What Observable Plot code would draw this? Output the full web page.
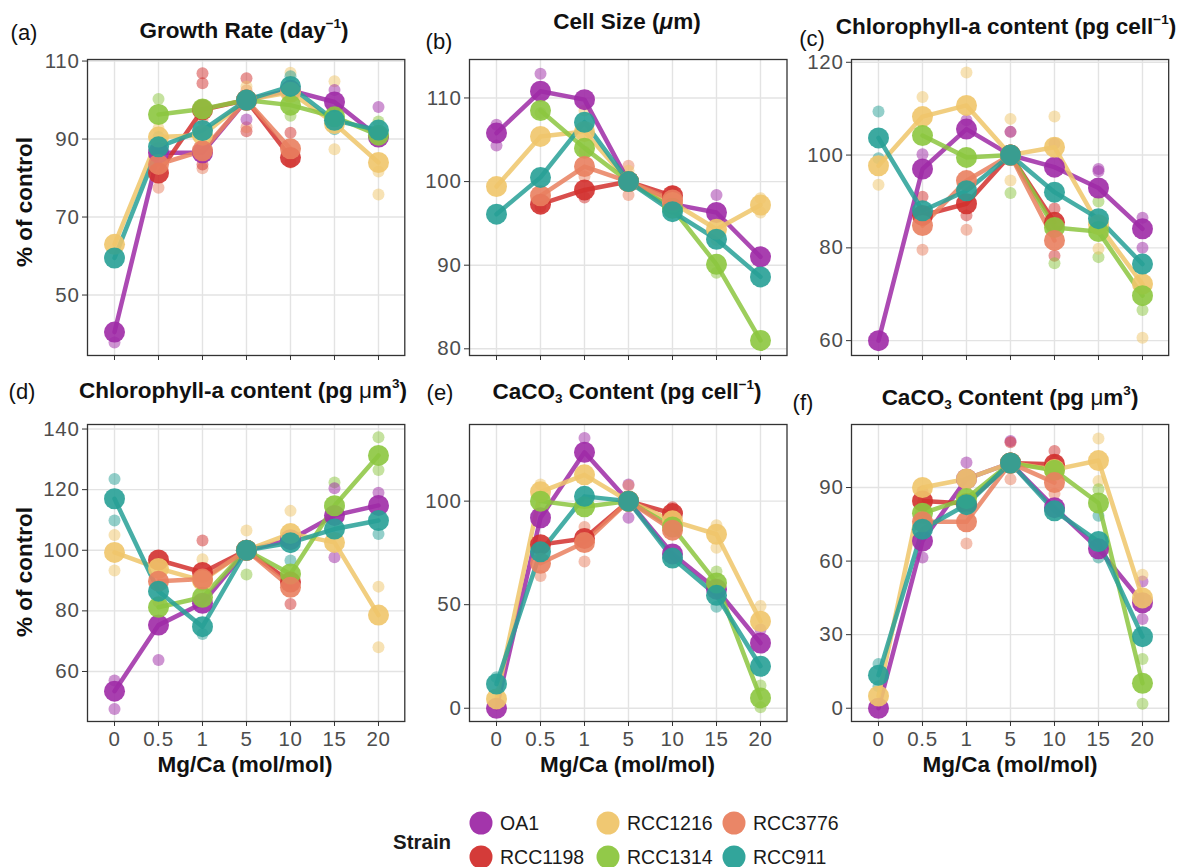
<!DOCTYPE html>
<html>
<head>
<meta charset="utf-8">
<script src="https://cdn.jsdelivr.net/npm/d3@7"></script>
<script src="https://cdn.jsdelivr.net/npm/@observablehq/plot@0.6"></script>
<style>
  html, body { margin: 0; padding: 0; background: #fff; }
  #root { position: relative; width: 1186px; height: 867px; overflow: hidden; font-family: "Liberation Sans", Arial, Helvetica, sans-serif; color: #111; }
  .abs { position: absolute; white-space: nowrap; transform: translate(-50%, -50%); }
  .title { font-weight: bold; font-size: 22.5px; }
  .tag { font-size: 22px; line-height: 1; }
  .axt { font-weight: bold; font-size: 22.5px; }
  sup { font-size: 0.6em; vertical-align: 0; position: relative; top: -0.75em; }
  sub { font-size: 0.6em; vertical-align: 0; position: relative; top: 0.3em; }
  .leg { position: absolute; font-size: 19.5px; color: #1a1a1a; transform: translateY(-50%); white-space: nowrap; }
  .sw { position: absolute; width: 23px; height: 23px; border-radius: 50%; transform: translate(-50%, -50%); }
</style>
</head>
<body>
<div id="root"></div>
<script>
// ---------- data ----------
const mgca = ["0", "0.5", "1", "5", "10", "15", "20"];
const strains = ["OA1", "RCC1198", "RCC1216", "RCC1314", "RCC3776", "RCC911"];
const strainColors = ["#9E2AA6", "#D2302E", "#EFC56A", "#8CC63F", "#E9805F", "#27A096"];

// means, rows in strain order, columns in mgca order
const growthMean = [
  [40.5, 86.5, 86.5, 100, 102.5, 99.5, 90.5],
  [null, 81.3, 97.5, 100, 85.3, null, null],
  [63, 90.5, 91, 100, 102, 94, 84],
  [null, 96.3, 97.7, 100, 98.7, 95.7, 91],
  [null, 83.5, 87, 100, 87.5, null, null],
  [59.5, 88, 92.2, 100, 103.5, 94.8, 92.3]
];
const sizeMean = [
  [105.8, 110.8, 109.8, 100, 97.3, 96.3, 91],
  [null, 97.3, 99, 100, 98.3, null, null],
  [99.4, 105.4, 106, 100, 97.5, 94.3, 97.2],
  [null, 108.5, 104, 100, 96.8, 90.1, 81],
  [null, 98.3, 101.8, 100, 97.8, null, null],
  [96.1, 100.5, 107.1, 100, 96.4, 93.1, 88.6]
];
const chlCellMean = [
  [60, 97, 105.6, 100, 97.4, 92.9, 84.1],
  [null, 87, 89.5, 100, 85.5, null, null],
  [97.7, 108.3, 110.7, 100, 101.7, 85, 72.2],
  [null, 104.2, 99.5, 100, 84.4, 83.5, 69.7],
  [null, 84.8, 94.5, 100, 81.6, null, null],
  [103.7, 88, 92.3, 100, 92, 86.3, 76.5]
];
const chlVolMean = [
  [53.5, 75.3, 82.5, 100, 103.5, 111.5, 114.8],
  [null, 96.8, 92.7, 100, 89.5, null, null],
  [99.3, 94, 90, 100, 105.5, 102.6, 78.6],
  [null, 81.2, 84.5, 100, 92.2, 114.7, 131.3],
  [null, 89.8, 90.5, 100, 87.8, null, null],
  [117, 86.5, 74.8, 100, 102.5, 107, 109.8]
];
const caco3CellMean = [
  [0, 92, 123.6, 100, 74.5, 57.5, 31.5],
  [null, 79, 82, 100, 94, null, null],
  [4.5, 104.5, 112.7, 100, 90.5, 84, 42],
  [null, 100, 97.3, 100, 87.5, 60.5, 5],
  [null, 70, 80, 100, 86, null, null],
  [11.7, 75.5, 102.3, 100, 72.5, 54.5, 20.3]
];
const caco3VolMean = [
  [0, 68.2, 93.5, 100, 81.8, 65, 43],
  [null, 84.5, 83.5, 100, 99.5, null, null],
  [5, 90, 93.5, 100, 97.3, 101, 45],
  [null, 79.5, 85.5, 100, 97, 83.7, 10.2],
  [null, 76, 76, 100, 92, null, null],
  [13.5, 73, 83, 100, 80.5, 68, 29.2]
];

// visible replicate points: [strain, Mg/Ca, value]
const growthReps = [
  ["OA1","0",37.8], ["RCC1314","0.5",100.3], ["RCC3776","0.5",77.5], ["RCC1216","0.5",92.7], ["RCC911","0.5",90.5],
  ["RCC1198","1",106.9], ["RCC1198","1",104.3], ["RCC3776","1",82.5], ["RCC1198","1",83.5], ["RCC3776","1",95],
  ["RCC1198","5",105.6], ["RCC3776","5",102.5], ["RCC1198","5",92], ["RCC3776","5",93], ["OA1","5",95], ["RCC1216","5",103.5],
  ["RCC1216","10",107], ["RCC911","10",106.1], ["RCC1198","10",91.6], ["RCC3776","10",84], ["RCC1314","10",96], ["RCC1314","10",101],
  ["RCC1216","15",104.8], ["RCC1216","15",87.4], ["OA1","15",102.6], ["RCC911","15",92.5],
  ["OA1","20",98.2], ["RCC1216","20",75.8], ["RCC1216","20",81.7], ["RCC1314","20",94.5]
];
const sizeReps = [
  ["OA1","0",106.8], ["OA1","0",104.3], ["OA1","0.5",112.9], ["RCC1314","0.5",108.2], ["RCC1198","0.5",97],
  ["RCC1216","1",108.5], ["RCC3776","1",103.6], ["RCC1198","1",98.1], ["RCC3776","1",100.6],
  ["RCC3776","5",101.9], ["RCC3776","5",98.4], ["RCC1216","5",101.3], ["RCC1198","10",98.8],
  ["OA1","15",98.4], ["RCC1216","15",93], ["RCC1314","15",89.1], ["RCC1216","20",98], ["RCC1216","20",96.3]
];
const chlCellReps = [
  ["RCC911","0",109.4], ["RCC911","0",99.3], ["RCC1216","0",93.6], ["RCC1216","0.5",112.5], ["OA1","0.5",100.2],
  ["RCC3776","0.5",79.6], ["RCC1198","0.5",91], ["RCC1216","1",117.8], ["OA1","1",107.5], ["RCC3776","1",83.9],
  ["RCC1198","1",87], ["RCC1216","5",107.8], ["RCC1314","5",91.8], ["RCC3776","5",105], ["OA1","5",105],
  ["RCC1216","5",94.5], ["RCC1216","10",108.3], ["OA1","10",102.5], ["RCC1198","10",78.3], ["RCC1314","10",76.7],
  ["RCC1198","10",88.5], ["OA1","15",97], ["OA1","15",96.5], ["RCC1314","15",78], ["RCC1216","15",79.8],
  ["RCC1314","15",90], ["RCC1216","20",60.6], ["RCC1314","20",66.6], ["OA1","20",80], ["OA1","20",86.5]
];
const chlVolReps = [
  ["RCC911","0",123.5], ["RCC911","0",109.8], ["RCC1216","0",105], ["RCC1216","0",93.3], ["OA1","0",57], ["OA1","0",47.6],
  ["OA1","0.5",63.8], ["RCC3776","0.5",83], ["RCC1198","1",103.2], ["RCC911","1",72.4], ["RCC1216","1",97],
  ["RCC1314","5",92], ["RCC1216","5",106.5], ["RCC1198","10",82.3], ["RCC1216","10",113], ["RCC911","10",96.6],
  ["RCC1314","15",122.4], ["OA1","15",97.7], ["OA1","15",120.5], ["RCC1314","20",137.3], ["RCC1314","20",126.5],
  ["RCC1216","20",88], ["RCC1216","20",68], ["RCC911","20",105.4], ["OA1","20",119]
];
const caco3CellReps = [
  ["RCC911","0",15], ["RCC1216","0.5",108], ["RCC3776","0.5",63.9], ["OA1","1",130.5], ["RCC3776","1",70.8], ["RCC3776","1",87.5],
  ["OA1","5",92], ["OA1","5",108], ["RCC3776","5",107.5], ["RCC1198","10",97],
  ["RCC1216","15",88.4], ["RCC1216","15",77.5], ["RCC1314","15",66], ["RCC911","15",49],
  ["RCC1216","20",49.4], ["RCC1314","20",0.5], ["RCC1314","20",11], ["OA1","20",38]
];
const caco3VolReps = [
  ["RCC911","0",18], ["RCC911","0",9], ["OA1","0.5",61.5], ["RCC1198","0.5",88.4], ["OA1","1",100.2], ["RCC3776","1",67.2],
  ["OA1","5",109], ["RCC3776","5",93.4], ["RCC1198","5",108.5], ["RCC1198","10",100.9], ["RCC1198","10",104.9], ["RCC3776","10",87.5],
  ["RCC1216","15",110], ["RCC1216","15",92.7], ["RCC1314","15",89.3], ["RCC911","15",78.5], ["RCC911","15",61.5],
  ["RCC1314","20",1.8], ["RCC1314","20",20.1], ["OA1","20",51.7], ["RCC1216","20",54.4], ["OA1","20",36.4]
];

const yTicksA = [50, 70, 90, 110];
const yTicksB = [80, 90, 100, 110];
const yTicksC = [60, 80, 100, 120];
const yTicksD = [60, 80, 100, 120, 140];
const yTicksE = [0, 50, 100];
const yTicksF = [0, 30, 60, 90];

// ---------- layout ----------
const FONT = '"Liberation Sans", Arial, Helvetica, sans-serif';
const colL = [86.5, 469, 851], colR = [403.8, 786.5, 1168.2];
const rowT = [59, 424], rowB = [355, 721];

const panels = [
  {means: growthMean, reps: growthReps, domain: [34.5, 110.4], ticks: yTicksA, col: 0, row: 0},
  {means: sizeMean, reps: sizeReps, domain: [79.2, 114.6], ticks: yTicksB, col: 1, row: 0},
  {means: chlCellMean, reps: chlCellReps, domain: [56.8, 120.6], ticks: yTicksC, col: 2, row: 0},
  {means: chlVolMean, reps: chlVolReps, domain: [43.5, 141.5], ticks: yTicksD, col: 0, row: 1},
  {means: caco3CellMean, reps: caco3CellReps, domain: [-6.4, 137], ticks: yTicksE, col: 1, row: 1},
  {means: caco3VolMean, reps: caco3VolReps, domain: [-5.4, 115.7], ticks: yTicksF, col: 2, row: 1}
];

const root = document.getElementById("root");

for (const p of panels) {
  const W = colR[p.col] - colL[p.col], H = rowB[p.row] - rowT[p.row];
  const mL = 60, mR = 6, mT = 6, mB = p.row === 1 ? 42 : 14;
  const meanData = [];
  strains.forEach((s, i) => p.means[i].forEach((v, j) => { if (v != null) meanData.push({strain: s, x: mgca[j], y: v}); }));
  const repData = p.reps.map(([s, x, y]) => ({strain: s, x, y}));
  const svg = Plot.plot({
    width: W + mL + mR, height: H + mT + mB,
    marginLeft: mL, marginRight: mR, marginTop: mT, marginBottom: mB,
    style: {fontFamily: FONT, fontSize: "20px", background: "transparent", overflow: "visible", letterSpacing: "0.7px"},
    x: {type: "point", domain: mgca, padding: 0.6, label: null},
    y: {domain: p.domain, label: null},
    color: {domain: strains, range: strainColors},
    marks: [
      Plot.gridX(mgca, {stroke: "#e3e3e3", strokeOpacity: 1, strokeWidth: 1.4}),
      Plot.gridY(p.ticks, {stroke: "#e3e3e3", strokeOpacity: 1, strokeWidth: 1.4}),
      Plot.axisY(p.ticks, {tickSize: 5, tickPadding: 3, fontSize: 20.5, fill: "#4d4d4d", stroke: "#333", label: null}),
      Plot.axisX(mgca, {tickSize: 5, tickPadding: 5, fontSize: 20.5, fill: "#4d4d4d", stroke: "#333", label: null,
                        tickFormat: p.row === 1 ? (d => d) : (() => "")}),
      Plot.dot(repData, {x: "x", y: "y", fill: "strain", r: 6, fillOpacity: 0.5}),
      Plot.line(meanData, {x: "x", y: "y", z: "strain", stroke: "strain", strokeWidth: 4.5, strokeOpacity: 0.85}),
      Plot.dot(meanData, {x: "x", y: "y", fill: "strain", r: 10.5, fillOpacity: 0.9}),
      Plot.frame({stroke: "#333", strokeWidth: 1.3})
    ]
  });
  svg.style.position = "absolute";
  svg.style.left = (colL[p.col] - mL) + "px";
  svg.style.top = (rowT[p.row] - mT) + "px";
  root.appendChild(svg);
}

// ---------- text ----------
function addText(html, cls, x, y, extra) {
  const d = document.createElement("div");
  d.className = "abs " + cls;
  d.innerHTML = html;
  d.style.left = x + "px";
  d.style.top = y + "px";
  if (extra) Object.assign(d.style, extra);
  root.appendChild(d);
}
const tags = [["(a)", 24, 33], ["(b)", 439, 42], ["(c)", 812, 39], ["(d)", 22, 392], ["(e)", 440, 393], ["(f)", 803, 403]];
tags.forEach(t => addText(t[0], "tag", t[1], t[2]));

const titles = [
  ["Growth Rate (day<sup>−1</sup>)", 244, 31],
  ["Cell Size (<i>μ</i>m)", 627, 22],
  ["Chlorophyll-a content (pg cell<sup>−1</sup>)", 1006, 27],
  ["Chlorophyll-a content (pg <span style='font-weight:normal'>μ</span>m<sup>3</sup>)", 243, 391],
  ["CaCO<sub>3</sub> Content (pg cell<sup>−1</sup>)", 627, 392],
  ["CaCO<sub>3</sub> Content (pg <span style='font-weight:normal'>μ</span>m<sup>3</sup>)", 1010, 398]
];
titles.forEach(t => addText(t[0], "title", t[1], t[2]));

addText("% of control", "axt", 25, 202, {transform: "translate(-50%, -50%) rotate(-90deg)"});
addText("% of control", "axt", 25, 572, {transform: "translate(-50%, -50%) rotate(-90deg)"});
[245, 627.5, 1010].forEach(x => addText("Mg/Ca (mol/mol)", "axt", x, 765));

// ---------- legend ----------
const legendTitle = document.createElement("div");
legendTitle.className = "leg";
legendTitle.style.left = "393px";
legendTitle.style.top = "842px";
legendTitle.style.fontWeight = "bold";
legendTitle.style.fontSize = "20.5px";
legendTitle.textContent = "Strain";
root.appendChild(legendTitle);

const legX = [481, 608, 734], legY = [823, 856.5];
strains.forEach((s, i) => {
  const c = Math.floor(i / 2), r = i % 2;
  const sw = document.createElement("div");
  sw.className = "sw";
  sw.style.left = legX[c] + "px";
  sw.style.top = legY[r] + "px";
  sw.style.background = strainColors[i];
  sw.style.opacity = 0.95;
  root.appendChild(sw);
  const lb = document.createElement("div");
  lb.className = "leg";
  lb.style.left = (legX[c] + 19) + "px";
  lb.style.top = legY[r] + "px";
  lb.textContent = s;
  root.appendChild(lb);
});
</script>
</body>
</html>
